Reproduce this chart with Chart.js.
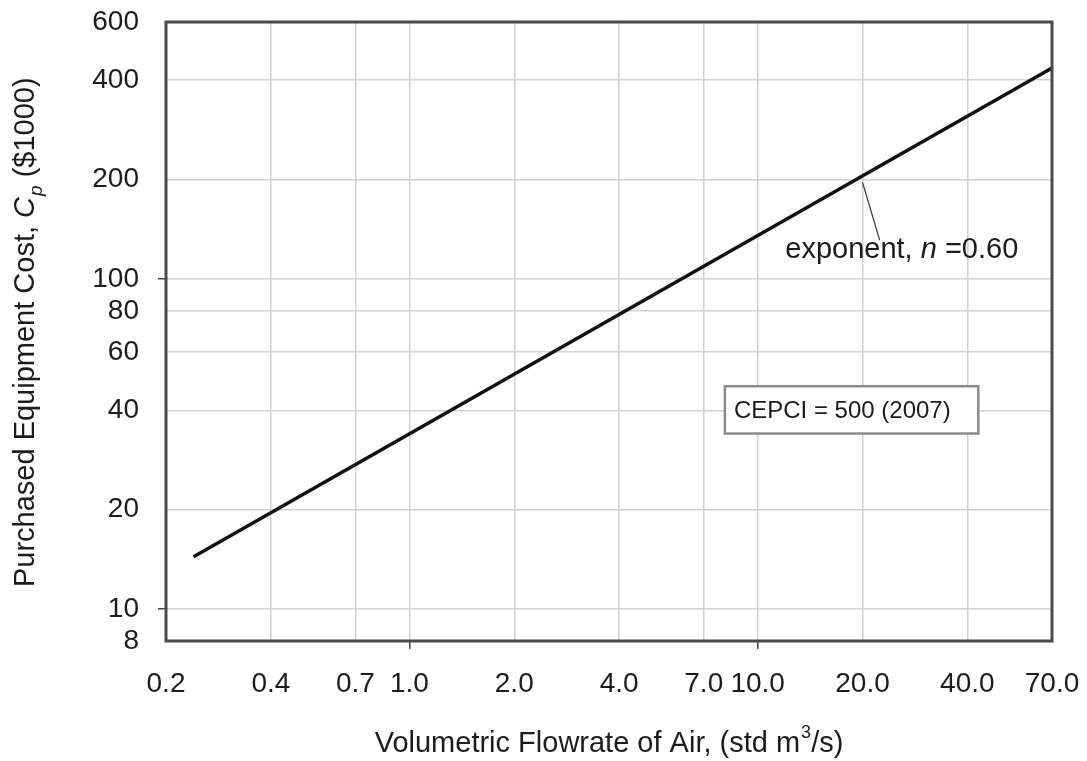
<!DOCTYPE html>
<html>
<head>
<meta charset="utf-8">
<script src="https://cdn.jsdelivr.net/npm/chart.js@4"></script>
<style>
  body { margin: 0; background: #fff; }
  #wrap { width: 1087px; height: 761px; position: relative; }
</style>
</head>
<body>
<div id="wrap"><canvas id="c"></canvas></div>
<script>
// data (log-log, straight line, n = 0.6)
const flowrate = [0.24, 70];
const cost = [14.4, 435];

const xTicks = [0.2, 0.4, 0.7, 1, 2, 4, 7, 10, 20, 40, 70];
const xTickLabels = ['0.2', '0.4', '0.7', '1.0', '2.0', '4.0', '7.0', '10.0', '20.0', '40.0', '70.0'];
const yTicks = [8, 10, 20, 40, 60, 80, 100, 200, 400, 600];
const yTickLabels = ['8', '10', '20', '40', '60', '80', '100', '200', '400', '600'];
const xMarked = [1, 10];
const yMarked = [10, 100];

const FONT = '"Liberation Sans", Arial, sans-serif';
const INK = '#1c1c1c';

// labels on the plot, placed in data units
const note = {
  leaderFrom: [20, 196],
  leaderTo: [22.4, 131],
  textAt: [12, 122],
  boxFrom: [8.05, 47.3],
  boxTo: [43, 34],
  boxText: 'CEPCI = 500 (2007)'
};

function txt(ctx, s, x, y, font) {
  ctx.font = font;
  ctx.fillText(s, x, y);
  return ctx.measureText(s).width;
}

const extras = {
  id: 'extras',
  afterDatasetsDraw(chart) {
    const ctx = chart.ctx;
    const a = chart.chartArea;
    const xs = chart.scales.x, ys = chart.scales.y;
    ctx.save();
    // frame
    ctx.strokeStyle = '#4a4a4a';
    ctx.lineWidth = 3;
    ctx.strokeRect(a.left, a.top, a.right - a.left, a.bottom - a.top);

    // leader line + exponent note
    ctx.strokeStyle = '#333';
    ctx.lineWidth = 1.2;
    ctx.beginPath();
    ctx.moveTo(xs.getPixelForValue(note.leaderFrom[0]), ys.getPixelForValue(note.leaderFrom[1]));
    ctx.lineTo(xs.getPixelForValue(note.leaderTo[0]), ys.getPixelForValue(note.leaderTo[1]));
    ctx.stroke();

    ctx.fillStyle = INK;
    ctx.textBaseline = 'middle';
    ctx.textAlign = 'left';
    let x = xs.getPixelForValue(note.textAt[0]);
    let y = ys.getPixelForValue(note.textAt[1]);
    x += txt(ctx, 'exponent, ', x, y, '29px ' + FONT);
    x += txt(ctx, 'n', x, y, 'italic 29px ' + FONT);
    txt(ctx, ' =0.60', x, y, '29px ' + FONT);

    // CEPCI box
    const bx0 = xs.getPixelForValue(note.boxFrom[0]), by0 = ys.getPixelForValue(note.boxFrom[1]);
    const bx1 = xs.getPixelForValue(note.boxTo[0]), by1 = ys.getPixelForValue(note.boxTo[1]);
    ctx.fillStyle = '#fff';
    ctx.fillRect(bx0, by0, bx1 - bx0, by1 - by0);
    ctx.strokeStyle = '#8a8a8a';
    ctx.lineWidth = 2.5;
    ctx.strokeRect(bx0, by0, bx1 - bx0, by1 - by0);
    ctx.fillStyle = INK;
    txt(ctx, note.boxText, bx0 + 9, (by0 + by1) / 2 + 1, '24px ' + FONT);

    // axis titles (with sub/superscripts)
    const tf = '29px ' + FONT;
    ctx.textBaseline = 'alphabetic';
    ctx.font = tf;
    const a1 = 'Volumetric Flowrate of Air, (std m', a2 = '/s)';
    const w = ctx.measureText(a1).width + ctx.measureText(a2).width + 11;
    x = (a.left + a.right) / 2 - w / 2;
    y = 752;
    x += txt(ctx, a1, x, y, tf);
    x += txt(ctx, '3', x + 1, y - 14, '18px ' + FONT) + 1;
    txt(ctx, a2, x, y, tf);

    ctx.translate(34, (a.top + a.bottom) / 2);
    ctx.rotate(-Math.PI / 2);
    const p1 = 'Purchased Equipment Cost, ', p3 = ' ($1000)';
    ctx.font = tf;
    let wy = ctx.measureText(p1).width + ctx.measureText(p3).width;
    ctx.font = 'italic 29px ' + FONT;
    wy += ctx.measureText('C').width + 13;
    x = -wy / 2;
    x += txt(ctx, p1, x, 0, tf);
    x += txt(ctx, 'C', x, 0, 'italic 29px ' + FONT);
    x += txt(ctx, 'p', x + 1, 8, 'italic 19px ' + FONT) + 1;
    txt(ctx, p3, x, 0, tf);
    ctx.restore();
  }
};

function markTick(list) {
  return c => (c.tick && list.includes(c.tick.value)) ? '#444' : 'rgba(0,0,0,0)';
}

new Chart(document.getElementById('c'), {
  type: 'line',
  data: {
    datasets: [{
      data: flowrate.map((v, i) => ({ x: v, y: cost[i] })),
      borderColor: '#111',
      borderWidth: 3.5,
      pointRadius: 0,
      fill: false,
      tension: 0
    }]
  },
  options: {
    responsive: true,
    maintainAspectRatio: false,
    animation: false,
    layout: { padding: { top: 22, right: 35, left: 0, bottom: 0 } },
    plugins: { legend: { display: false }, tooltip: { enabled: false } },
    scales: {
      x: {
        type: 'logarithmic',
        min: 0.2,
        max: 70,
        afterBuildTicks: s => { s.ticks = xTicks.map(v => ({ value: v })); },
        afterFit: s => { s.height = 120; s.paddingLeft = 0; s.paddingRight = 0; },
        ticks: {
          callback: (v, i) => xTickLabels[i],
          autoSkip: false,
          maxRotation: 0,
          padding: 18,
          color: INK,
          font: { family: FONT, size: 28 }
        },
        grid: {
          color: '#d2d2d2',
          lineWidth: 1.5,
          tickLength: 8,
          tickColor: markTick(xMarked),
          tickWidth: 1.5
        },
        border: { display: false }
      },
      y: {
        type: 'logarithmic',
        min: 8,
        max: 600,
        afterBuildTicks: s => { s.ticks = yTicks.map(v => ({ value: v })); },
        afterFit: s => { s.width = 166; s.paddingTop = 0; s.paddingBottom = 0; },
        ticks: {
          callback: (v, i) => yTickLabels[i],
          autoSkip: false,
          padding: 19,
          color: INK,
          font: { family: FONT, size: 28 }
        },
        grid: {
          color: '#d2d2d2',
          lineWidth: 1.5,
          tickLength: 8,
          tickColor: markTick(yMarked),
          tickWidth: 1.5
        },
        border: { display: false }
      }
    }
  },
  plugins: [extras]
});
</script>
</body>
</html>
